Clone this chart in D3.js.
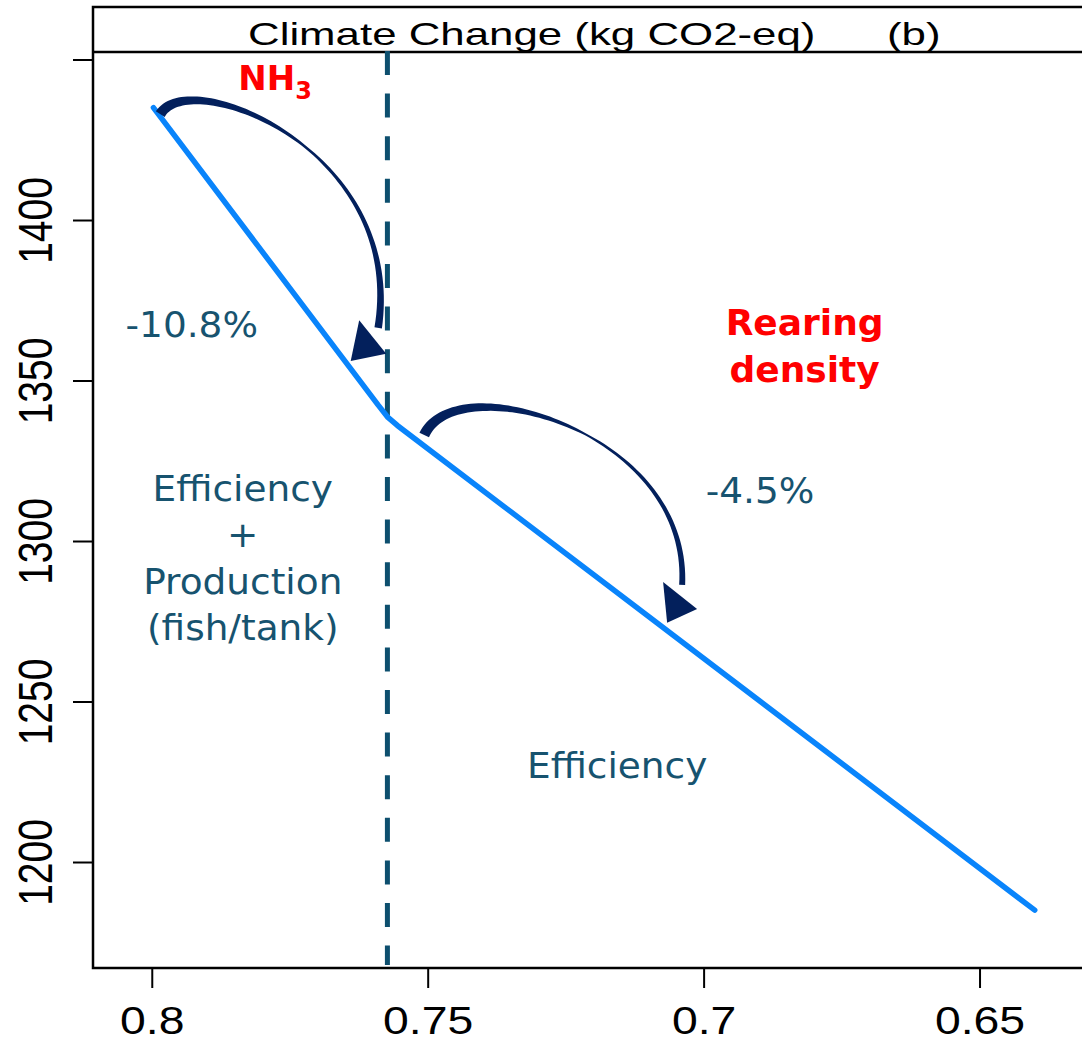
<!DOCTYPE html>
<html>
<head>
<meta charset="utf-8">
<script src="https://cdn.jsdelivr.net/npm/d3@7"></script>
<style>
  body { margin: 0; background: #fff; }
</style>
</head>
<body>
<div id="chart"></div>
<script>
// ---- data ----
const xTicks = [0.8, 0.75, 0.7, 0.65];
const yTicks = [1200, 1250, 1300, 1350, 1400, 1450];
const yTickLabels = ["1200", "1250", "1300", "1350", "1400", ""];

// NH3 / efficiency trade-off curve (x = NH3 level, y = climate change)
const curveX = [0.7997, 0.7590, 0.7572, 0.7555, 0.6400];
const curveY = [1435.0, 1342.4, 1338.5, 1336.0, 1185.0];

// threshold where rearing density takes over
const thresholdX = 0.7573;

const titleText = "Climate Change (kg CO2-eq)";
const panelTag = "(b)";

// annotations, anchored in data units
const tealNotes = [
  { lines: ["-10.8%"], x: 0.79275, y: 1363.5 },
  { lines: ["Efficiency", "+", "Production", "(fish/tank)"], x: 0.78351, y: 1312.5 },
  { lines: ["-4.5%"], x: 0.68977, y: 1311.8 },
  { lines: ["Efficiency"], x: 0.71567, y: 1226.2 }
];
const redNotes = [
  { lines: ["Rearing", "density"], x: 0.6817, y: 1364.2 }
];
const nh3Note = { x: 0.78433, y: 1440.5 };

// curved arrows: cubic bezier centre line + arrow head, widths along t
const arrows = [
  {
    curve: [[0.79846, 1433.0], [0.79303, 1448.3], [0.75407, 1421.8], [0.75897, 1366.4]],
    head: [[0.76241, 1368.8], [0.75752, 1358.3], [0.76395, 1356.1]],
    widths: [[0, 10.5], [0.25, 7], [0.55, 2.5], [0.8, 4.5], [1, 7.5]]
  },
  {
    curve: [[0.75063, 1333.0], [0.74502, 1354.7], [0.70245, 1334.6], [0.70389, 1286.3]],
    head: [[0.70734, 1287.2], [0.70118, 1278.8], [0.70661, 1274.5]],
    widths: [[0, 10.5], [0.25, 8], [0.55, 2.2], [0.8, 4], [1, 6]]
  }
];

// ---- layout ----
const W = 1082, H = 1038;
const box = { left: 93, right: 1100, top: 7, strip: 52, bottom: 968 };

const COL = {
  line: "#0984fb",
  dash: "#0d4f6e",
  arrow: "#03205c",
  teal: "#17536f",
  red: "#ff0000"
};

const svg = d3.select("#chart")
  .append("svg")
  .attr("width", W)
  .attr("height", H);

const x = d3.scaleLinear()
  .domain([0.81065, 0.62817])
  .range([box.left, box.right]);

const y = d3.scaleLinear()
  .domain([1166.98, 1452.34])
  .range([box.bottom, box.strip]);

// ---- axes ----
const xAxis = svg.append("g")
  .attr("transform", `translate(0,${box.bottom})`)
  .call(d3.axisBottom(x).tickValues(xTicks).tickSize(20).tickFormat(d => String(d)));

xAxis.select(".domain").remove();
xAxis.selectAll(".tick line").attr("stroke", "#000").attr("stroke-width", 2);
xAxis.selectAll(".tick text")
  .attr("y", 66)
  .attr("dy", 0)
  .attr("fill", "#000")
  .attr("font-family", "Liberation Sans, Arial, sans-serif")
  .attr("font-size", 38)
  .attr("transform", "scale(1.22,1)");

const yAxis = svg.append("g")
  .attr("transform", `translate(${box.left},0)`)
  .call(d3.axisLeft(y).tickValues(yTicks).tickSize(20)
    .tickFormat((d, i) => yTickLabels[i]));

yAxis.select(".domain").remove();
yAxis.selectAll(".tick line").attr("stroke", "#000").attr("stroke-width", 2);
yAxis.selectAll(".tick text")
  .attr("x", 0)
  .attr("dy", 0)
  .attr("text-anchor", "middle")
  .attr("fill", "#000")
  .attr("font-family", "Liberation Sans, Arial, sans-serif")
  .attr("font-size", 39)
  .attr("transform", "translate(-41,0) scale(1.25,1) rotate(-90)");

// ---- frame + strip ----
svg.append("rect")
  .attr("x", box.left)
  .attr("y", box.top)
  .attr("width", box.right - box.left + 100)
  .attr("height", box.bottom - box.top)
  .attr("fill", "none")
  .attr("stroke", "#000")
  .attr("stroke-width", 2.5);

svg.append("line")
  .attr("x1", box.left).attr("x2", box.right + 100)
  .attr("y1", box.strip).attr("y2", box.strip)
  .attr("stroke", "#000")
  .attr("stroke-width", 2.5);

svg.append("text")
  .attr("transform", `translate(248,45) scale(1.37,1)`)
  .attr("font-family", "Liberation Sans, Arial, sans-serif")
  .attr("font-size", 32)
  .text(titleText);

svg.append("text")
  .attr("transform", `translate(887,45) scale(1.37,1)`)
  .attr("font-family", "Liberation Sans, Arial, sans-serif")
  .attr("font-size", 32)
  .text(panelTag);

// ---- threshold (dashed) ----
svg.append("line")
  .attr("x1", x(thresholdX)).attr("x2", x(thresholdX))
  .attr("y1", box.strip - 1).attr("y2", box.bottom - 3)
  .attr("stroke", COL.dash)
  .attr("stroke-width", 5)
  .attr("stroke-dasharray", "24,18.6");

// ---- main curve ----
const pts = curveX.map((v, i) => [v, curveY[i]]);
svg.append("path")
  .datum(pts)
  .attr("fill", "none")
  .attr("stroke", COL.line)
  .attr("stroke-width", 5.5)
  .attr("stroke-linejoin", "round")
  .attr("stroke-linecap", "round")
  .attr("d", d3.line().x(d => x(d[0])).y(d => y(d[1])));

// ---- tapered curved arrows ----
function bez(p, t) {
  const u = 1 - t;
  const a = u * u * u, b = 3 * u * u * t, c = 3 * u * t * t, e = t * t * t;
  return [
    a * p[0][0] + b * p[1][0] + c * p[2][0] + e * p[3][0],
    a * p[0][1] + b * p[1][1] + c * p[2][1] + e * p[3][1]
  ];
}

function taperedShape(a) {
  const p = a.curve.map(d => [x(d[0]), y(d[1])]);
  const w = d3.scaleLinear()
    .domain(a.widths.map(s => s[0]))
    .range(a.widths.map(s => s[1]));
  const n = 80, left = [], right = [];
  for (let i = 0; i <= n; i++) {
    const t = i / n;
    const c = bez(p, t);
    const t0 = Math.max(0, t - 0.005), t1 = Math.min(1, t + 0.005);
    const q0 = bez(p, t0), q1 = bez(p, t1);
    const dx = q1[0] - q0[0], dy = q1[1] - q0[1];
    const len = Math.hypot(dx, dy) || 1;
    const nx = -dy / len, ny = dx / len;
    const hw = w(t) / 2;
    left.push([c[0] + nx * hw, c[1] + ny * hw]);
    right.push([c[0] - nx * hw, c[1] - ny * hw]);
  }
  return d3.line()(left.concat(right.reverse())) + "Z";
}

const arrowG = svg.append("g");
arrows.forEach(a => {
  arrowG.append("path")
    .attr("d", taperedShape(a))
    .attr("fill", COL.arrow);
  arrowG.append("path")
    .attr("d", d3.line()(a.head.map(d => [x(d[0]), y(d[1])])) + "Z")
    .attr("fill", COL.arrow);
});

// ---- annotations ----
tealNotes.forEach(n => {
  const t = svg.append("text")
    .attr("transform", `translate(${x(n.x)},${y(n.y)}) scale(1.07,1)`)
    .attr("text-anchor", "middle")
    .attr("font-family", "DejaVu Sans, Verdana, sans-serif")
    .attr("font-size", 35)
    .attr("fill", COL.teal);
  n.lines.forEach((l, i) => {
    t.append("tspan").attr("x", 0).attr("y", i * 46.5).text(l);
  });
});

redNotes.forEach(n => {
  const t = svg.append("text")
    .attr("transform", `translate(${x(n.x)},${y(n.y)})`)
    .attr("text-anchor", "middle")
    .attr("font-family", "DejaVu Sans, Verdana, sans-serif")
    .attr("font-weight", "bold")
    .attr("font-size", 36)
    .attr("fill", COL.red);
  n.lines.forEach((l, i) => {
    t.append("tspan").attr("x", 0).attr("y", i * 47).text(l);
  });
});

const nh3 = svg.append("text")
  .attr("x", x(nh3Note.x))
  .attr("y", y(nh3Note.y))
  .attr("font-family", "DejaVu Sans, Verdana, sans-serif")
  .attr("font-weight", "bold")
  .attr("font-size", 34)
  .attr("fill", COL.red);
nh3.append("tspan").text("NH");
nh3.append("tspan").attr("font-size", 24).attr("dy", 9).text("3");
</script>
</body>
</html>
